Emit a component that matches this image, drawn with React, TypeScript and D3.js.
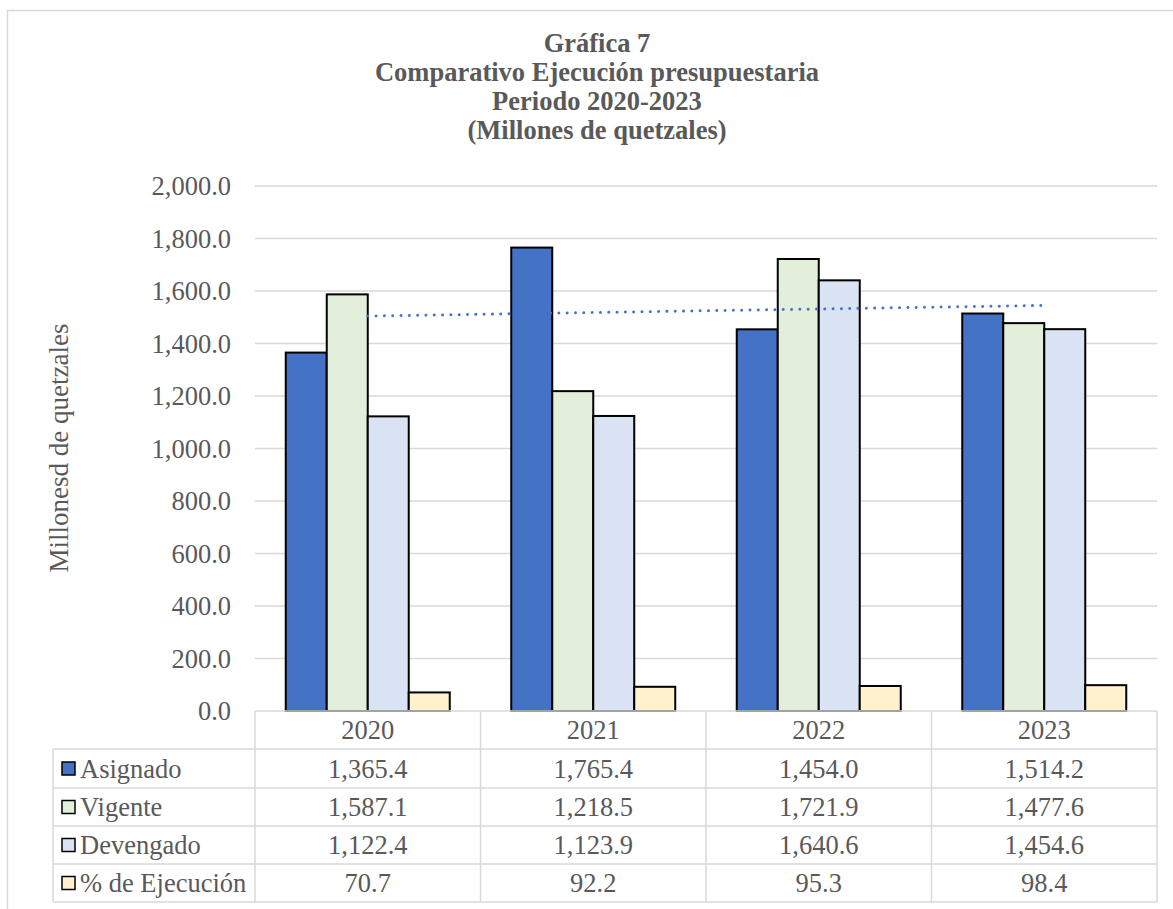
import React from "react";
import * as d3 from "d3";

const years = ["2020", "2021", "2022", "2023"];
const seriesNames = ["Asignado", "Vigente", "Devengado", "% de Ejecución"];
const asignado = [1365.4, 1765.4, 1454.0, 1514.2];
const vigente = [1587.1, 1218.5, 1721.9, 1477.6];
const devengado = [1122.4, 1123.9, 1640.6, 1454.6];
const ejecucion = [70.7, 92.2, 95.3, 98.4];
const yTicks = [0, 200, 400, 600, 800, 1000, 1200, 1400, 1600, 1800, 2000];
const titleLines = [
  "Gráfica 7",
  "Comparativo Ejecución presupuestaria",
  "Periodo 2020-2023",
  "(Millones de quetzales)",
];
const colors = ["#4472C4", "#E2EFDA", "#DAE3F3", "#FFF2CC"];

export default function App() {
  const W = 1173, H = 909;
  const left = 255, right = 1157, top = 186, bottom = 711;
  const seriesValues = [asignado, vigente, devengado, ejecucion];

  const y = d3.scaleLinear().domain([0, 2000]).range([bottom, top]);
  const x0 = d3.scaleBand<string>().domain(years).range([left, right]).padding(0);
  const bw = x0.bandwidth();
  const gap = (bw * 1.5) / 5.5;
  const x1 = d3.scaleBand<string>().domain(seriesNames).range([gap / 2, bw - gap / 2]).padding(0);

  // linear trend of Asignado
  const xs = asignado.map((_, i) => i + 1);
  const mx = d3.mean(xs) as number;
  const my = d3.mean(asignado) as number;
  const slope =
    d3.sum(xs.map((xv, i) => (xv - mx) * (asignado[i] - my))) /
    d3.sum(xs.map((xv) => (xv - mx) ** 2));
  const icpt = my - slope * mx;
  const trendPts: [number, number][] = years.map((yr, i) => [
    (x0(yr) as number) + bw / 2,
    y(icpt + slope * (i + 1)),
  ]);
  const trendLine = d3.line()(trendPts) as string;

  const gray = "#595959";
  const grid = "#D9D9D9";
  const font = "'Liberation Serif', 'Times New Roman', 'DejaVu Serif', serif";
  const fs = 26.5;

  const rowY = [711, 749, 788, 826, 864, 902];
  const tableLeft = 53;
  const fmt = d3.format(",.1f");

  return (
    <svg
      width={W}
      height={H}
      style={{ position: "absolute", left: 0, top: 0, background: "#fff", fontFamily: font }}
    >
      <rect x={7.5} y={10.5} width={1200} height={1000} fill="#fff" stroke={grid} strokeWidth={1.5} />

      {titleLines.map((t, i) => (
        <text key={i} x={597} y={52 + i * 29} textAnchor="middle" fontWeight="bold" fontSize={26.5} fill={gray} style={{ fontFamily: font }}>
          {t}
        </text>
      ))}

      {yTicks.map((t) => (
        <g key={t}>
          {t > 0 && <line x1={left} x2={right} y1={y(t)} y2={y(t)} stroke={grid} strokeWidth={1.5} />}
          <text x={231} y={y(t)} dy="0.35em" textAnchor="end" fontSize={fs} fill={gray} style={{ fontFamily: font }}>
            {fmt(t)}
          </text>
        </g>
      ))}

      <text
        transform={`translate(68,${448}) rotate(-90)`}
        textAnchor="middle"
        fontSize={27}
        fill={gray}
        style={{ fontFamily: font }}
      >
        Millonesd de quetzales
      </text>

      {years.map((yr, ci) => (
        <g key={yr} transform={`translate(${x0(yr)},0)`}>
          {seriesNames.map((s, si) => {
            const v = seriesValues[si][ci];
            return (
              <rect
                key={s}
                x={x1(s)}
                y={y(v)}
                width={x1.bandwidth()}
                height={y(0) - y(v)}
                fill={colors[si]}
                stroke="#000"
                strokeWidth={2}
              />
            );
          })}
        </g>
      ))}

      <path
        d={trendLine}
        fill="none"
        stroke="#4472C4"
        strokeWidth={3}
        strokeDasharray="0.01 8.3"
        strokeLinecap="round"
      />

      <g stroke={grid} strokeWidth={1.5}>
        <line x1={left} x2={right} y1={rowY[0]} y2={rowY[0]} />
        {rowY.slice(1).map((ry) => (
          <line key={ry} x1={tableLeft} x2={right} y1={ry} y2={ry} />
        ))}
        <line x1={tableLeft} x2={tableLeft} y1={rowY[1]} y2={rowY[5]} />
        {years.map((yr) => (
          <line key={yr} x1={x0(yr)} x2={x0(yr)} y1={rowY[0]} y2={rowY[5]} />
        ))}
        <line x1={right} x2={right} y1={rowY[0]} y2={rowY[5]} />
      </g>

      {years.map((yr) => (
        <text
          key={yr}
          x={(x0(yr) as number) + bw / 2}
          y={(rowY[0] + rowY[1]) / 2}
          dy="0.35em"
          textAnchor="middle"
          fontSize={fs}
          fill={gray}
          style={{ fontFamily: font }}
        >
          {yr}
        </text>
      ))}

      {seriesNames.map((s, si) => {
        const cy = (rowY[si + 1] + rowY[si + 2]) / 2;
        return (
          <g key={s}>
            <rect x={62} y={cy - 6.5} width={13} height={13} fill={colors[si]} stroke="#000" strokeWidth={1.5} />
            <text x={80} y={cy} dy="0.35em" fontSize={fs} fill={gray} style={{ fontFamily: font }}>
              {s}
            </text>
            {years.map((yr, ci) => (
              <text
                key={yr}
                x={(x0(yr) as number) + bw / 2}
                y={cy}
                dy="0.35em"
                textAnchor="middle"
                fontSize={fs}
                fill={gray}
                style={{ fontFamily: font }}
              >
                {fmt(seriesValues[si][ci])}
              </text>
            ))}
          </g>
        );
      })}
    </svg>
  );
}
